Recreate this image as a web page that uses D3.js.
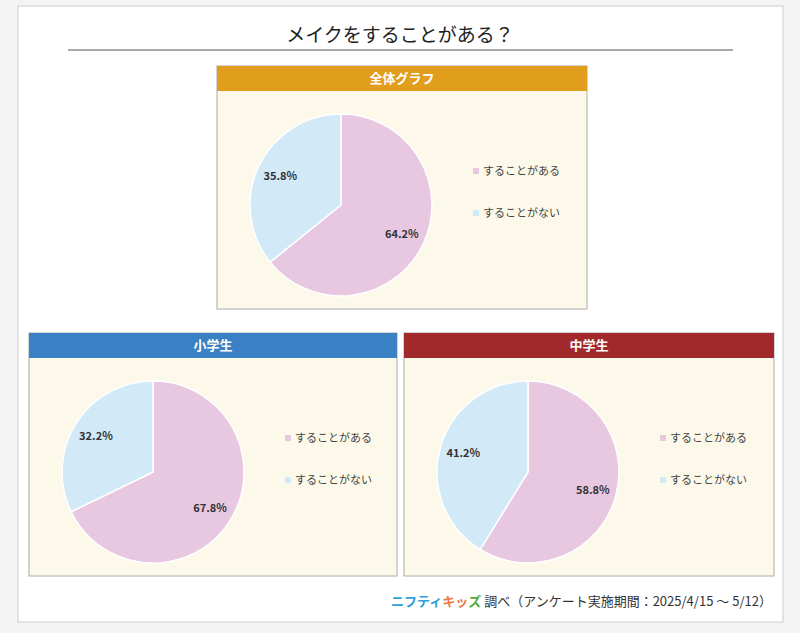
<!DOCTYPE html><html><head><meta charset="utf-8"><script src="https://cdn.jsdelivr.net/npm/d3@7"></script>
<style>body{margin:0;background:#f4f4f4;}svg{display:block;font-family:"Noto Sans CJK JP","Noto Sans",sans-serif;}</style></head><body><svg id="c" width="800" height="633"></svg>
<script>
const title="メイクをすることがある？";
const categories=["することがある","することがない"];
const panelNames=["全体グラフ","小学生","中学生"];
const valuesAll=[64.2,35.8];
const valuesElem=[67.8,32.2];
const valuesJunior=[58.8,41.2];
const colors=["#e8c8e0","#d2e9f8"];
const svg=d3.select("#c");
svg.append("rect").attr("x",18).attr("y",6).attr("width",765).attr("height",616).attr("fill","#fff").attr("stroke","#ccc");
svg.append("text").attr("x",400).attr("y",42).attr("text-anchor","middle").attr("font-size",19).attr("fill","#222").text(title);
svg.append("line").attr("x1",68).attr("x2",733).attr("y1",50).attr("y2",50).attr("stroke","#555");
const panels=[
 {x:217,y:66,w:370,h:243,hc:"#e19e1c",v:valuesAll,n:panelNames[0]},
 {x:29,y:333,w:368,h:243,hc:"#3a80c4",v:valuesElem,n:panelNames[1]},
 {x:404,y:333,w:370,h:243,hc:"#a1292b",v:valuesJunior,n:panelNames[2]}];
const pie=d3.pie().sort(null);
const r=91;
const arc=d3.arc().innerRadius(0).outerRadius(r);
const la=d3.arc().innerRadius(r*0.74).outerRadius(r*0.74);
panels.forEach(p=>{
 const g=svg.append("g").attr("transform",`translate(${p.x},${p.y})`);
 g.append("rect").attr("width",p.w).attr("height",p.h).attr("fill","#fcf9eb").attr("stroke","#aaa");
 g.append("rect").attr("width",p.w).attr("height",25).attr("fill",p.hc);
 g.append("text").attr("x",p.w/2).attr("y",17).attr("text-anchor","middle").attr("fill","#fff").attr("font-weight","bold").attr("font-size",13).text(p.n);
 const pg=g.append("g").attr("transform",`translate(124,139)`);
 const arcs=pie(p.v);
 pg.selectAll("path").data(arcs).join("path").attr("d",arc).attr("fill",(d,i)=>colors[i]).attr("stroke","#fff").attr("stroke-width",1.5);
 pg.selectAll("text").data(arcs).join("text").attr("transform",d=>`translate(${la.centroid(d)})`).attr("text-anchor","middle").attr("dy","0.35em").attr("font-size",11).attr("font-weight","bold").attr("fill","#333").text(d=>d.data.toFixed(1)+"%");
 categories.forEach((c,i)=>{
  const ly=105+i*42;
  g.append("rect").attr("x",256).attr("y",ly-3).attr("width",6).attr("height",6).attr("fill",colors[i]);
  g.append("text").attr("x",266).attr("y",ly).attr("dy","0.35em").attr("font-size",11).attr("fill","#444").text(c);
 });
});
const f=svg.append("text").attr("x",391).attr("y",606).attr("font-size",13);
f.append("tspan").attr("fill","#2ca0d8").attr("font-weight","bold").text("ニフティ");
f.append("tspan").attr("fill","#e74").attr("font-weight","bold").text("キッ");
f.append("tspan").attr("fill","#5a3").attr("font-weight","bold").text("ズ");
f.append("tspan").attr("fill","#333").text(" 調べ（アンケート実施期間：2025/4/15 ～ 5/12）");
</script></body></html>
